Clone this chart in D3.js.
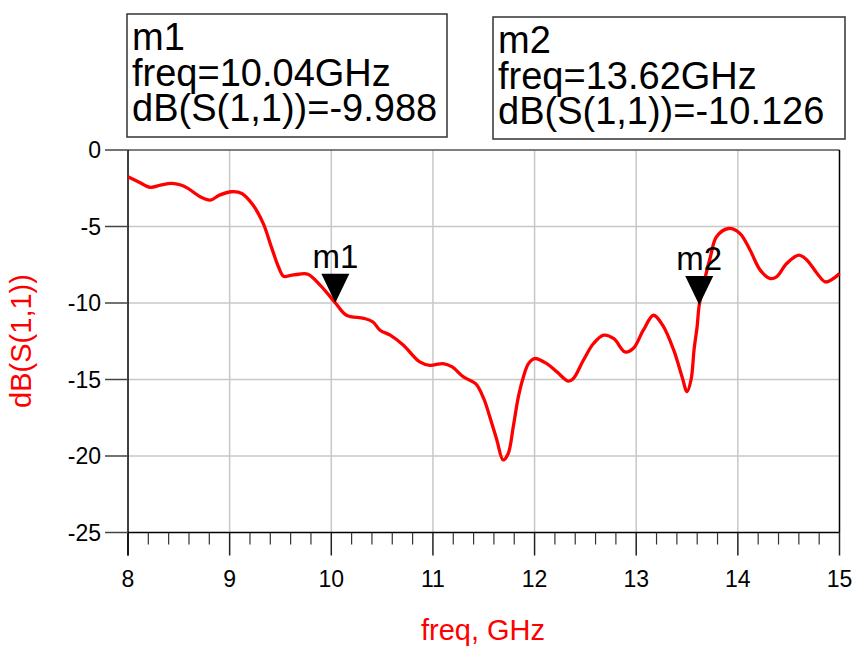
<!DOCTYPE html>
<html>
<head>
<meta charset="utf-8">
<script src="https://cdn.jsdelivr.net/npm/d3@7"></script>
<style>
  body { margin: 0; background: #fff; }
  svg { display: block; font-family: "Liberation Sans", Arial, sans-serif; }
</style>
</head>
<body>
<svg id="chart" width="859" height="651"></svg>
<script>
// freq in GHz, dB(S(1,1))
let freq = [8.00, 8.10, 8.22, 8.32, 8.43, 8.52, 8.59, 8.71, 8.81, 8.90, 9.02, 9.12, 9.23, 9.33,
  9.41, 9.48, 9.53, 9.60, 9.68, 9.77, 9.89, 10.04, 10.15, 10.32, 10.41, 10.48, 10.58, 10.71,
  10.87, 10.97, 11.10, 11.19, 11.30, 11.42, 11.50, 11.56, 11.63, 11.69, 11.74, 11.79, 11.84,
  11.89, 11.94, 12.00, 12.12, 12.22, 12.33, 12.38, 12.48, 12.58, 12.68, 12.78, 12.89, 12.97,
  13.07, 13.17, 13.26, 13.37, 13.45, 13.50, 13.54, 13.57, 13.60, 13.62, 13.68, 13.73, 13.79,
  13.91, 14.02, 14.12, 14.22, 14.32, 14.38, 14.48, 14.60, 14.68, 14.78, 14.86, 14.94, 15.00];
let s11 = [-1.75, -2.07, -2.44, -2.29, -2.18, -2.29, -2.51, -3.05, -3.27, -2.95, -2.73, -2.84,
  -3.6, -4.8, -6.33, -7.63, -8.25, -8.2, -8.12, -8.12, -8.83, -9.988, -10.8, -11.0, -11.24,
  -11.78, -12.1, -12.76, -13.85, -14.07, -13.96, -14.18, -14.83, -15.27, -16.25, -17.45, -18.98,
  -20.25, -19.85, -18.1, -16.15, -14.83, -13.96, -13.63, -13.96, -14.5, -15.1, -14.95, -13.74,
  -12.65, -12.1, -12.33, -13.2, -12.98, -11.78, -10.8, -11.45, -13.1, -14.8, -15.8, -15.0,
  -13.0, -11.5, -10.126, -8.29, -6.98, -5.67, -5.13, -5.45, -6.54, -7.85, -8.4, -8.29, -7.42,
  -6.87, -7.2, -8.07, -8.62, -8.4, -8.07];

let xTicks = [8, 9, 10, 11, 12, 13, 14, 15];
let yTicks = [0, -5, -10, -15, -20, -25];

let markerNames = ["m1", "m2"];
let markerFreq = [10.04, 13.62];
let markerVal = [-9.988, -10.126];

let xTitle = "freq, GHz";
let yTitle = "dB(S(1,1))";

let svg = d3.select("#chart");
let pLeft = 128, pRight = 839.5, pTop = 150, pBottom = 532.5;

let x = d3.scaleLinear().domain([8, 15]).range([pLeft, pRight]);
let y = d3.scaleLinear().domain([-25, 0]).range([pBottom, pTop]);

// grid
let grid = svg.append("g").attr("stroke", "#c8c8c8").attr("stroke-width", 1.5);
grid.selectAll(".vg").data(xTicks.slice(1, -1)).enter().append("line")
  .attr("x1", d => x(d)).attr("x2", d => x(d)).attr("y1", pTop).attr("y2", pBottom);
grid.selectAll(".hg").data(yTicks.slice(1, -1)).enter().append("line")
  .attr("x1", pLeft).attr("x2", pRight).attr("y1", d => y(d)).attr("y2", d => y(d));

// frame: top gray, right black
svg.append("line").attr("x1", pLeft).attr("x2", pRight).attr("y1", pTop).attr("y2", pTop)
  .attr("stroke", "#555").attr("stroke-width", 1.5);
svg.append("line").attr("x1", pRight).attr("x2", pRight).attr("y1", pTop).attr("y2", pBottom)
  .attr("stroke", "#000").attr("stroke-width", 1.5);

// bottom axis with minor ticks
let minor = d3.range(8, 15.001, 0.2).filter(v => Math.abs(v - Math.round(v)) > 0.01);
let xAxis = svg.append("g").attr("transform", `translate(0,${pBottom})`);
xAxis.append("line").attr("x1", pLeft).attr("x2", pRight).attr("stroke", "#000").attr("stroke-width", 1.5);
xAxis.selectAll(".minor").data(minor).enter().append("line")
  .attr("x1", d => x(d)).attr("x2", d => x(d)).attr("y1", 0).attr("y2", 12)
  .attr("stroke", "#333").attr("stroke-width", 1.2);
xAxis.selectAll(".major").data(xTicks).enter().append("line")
  .attr("x1", d => x(d)).attr("x2", d => x(d)).attr("y1", 0).attr("y2", 23)
  .attr("stroke", "#222").attr("stroke-width", 1.5);
xAxis.selectAll("text").data(xTicks).enter().append("text")
  .attr("x", d => x(d)).attr("y", 54)
  .attr("text-anchor", "middle").attr("font-size", 23).attr("fill", "#000")
  .text(d => d);

// left axis
let yAxis = svg.append("g");
yAxis.append("line").attr("x1", pLeft).attr("x2", pLeft).attr("y1", pTop).attr("y2", pBottom + 23)
  .attr("stroke", "#000").attr("stroke-width", 1.5);
yAxis.selectAll(".tk").data(yTicks).enter().append("line")
  .attr("x1", pLeft - 23).attr("x2", pLeft).attr("y1", d => y(d)).attr("y2", d => y(d))
  .attr("stroke", "#444").attr("stroke-width", 1.5);
yAxis.selectAll("text").data(yTicks).enter().append("text")
  .attr("x", 101).attr("y", d => y(d) + 8)
  .attr("text-anchor", "end").attr("font-size", 23).attr("fill", "#000")
  .text(d => d);

// titles
svg.append("text").attr("x", 483).attr("y", 640).attr("text-anchor", "middle")
  .attr("font-size", 29).attr("fill", "#ff0000").text(xTitle);
svg.append("text").attr("transform", "translate(31,341) rotate(-90)").attr("text-anchor", "middle")
  .attr("font-size", 29).attr("fill", "#ff0000").text(yTitle);

// curve
let pts = freq.map((f, i) => [f, s11[i]]);
let line = d3.line().x(d => x(d[0])).y(d => y(d[1])).curve(d3.curveCatmullRom.alpha(0.5));
svg.append("path").datum(pts).attr("d", line)
  .attr("fill", "none").attr("stroke", "#ff0000").attr("stroke-width", 3.3)
  .attr("stroke-linejoin", "round");

// markers
markerNames.forEach((name, i) => {
  let mx = x(markerFreq[i]), my = y(markerVal[i]);
  svg.append("path")
    .attr("d", `M${mx - 14},${my - 29}L${mx + 14},${my - 29}L${mx},${my}Z`)
    .attr("fill", "#000");
  svg.append("text").attr("x", mx).attr("y", my - 35).attr("text-anchor", "middle")
    .attr("font-size", 33).attr("fill", "#000").text(name);
});

// marker readout boxes
let boxes = [{x: 127, y: 14, w: 320, h: 123}, {x: 493, y: 17, w: 352, h: 122}];
markerNames.forEach((name, i) => {
  let b = boxes[i];
  let g = svg.append("g");
  g.append("rect").attr("x", b.x).attr("y", b.y).attr("width", b.w).attr("height", b.h)
    .attr("fill", "#fff").attr("stroke", "#333").attr("stroke-width", 1.5);
  let lines = [name, "freq=" + markerFreq[i].toFixed(2) + "GHz", "dB(S(1,1))=" + markerVal[i]];
  g.selectAll("text").data(lines).enter().append("text")
    .attr("x", b.x + 5).attr("y", (d, k) => b.y + 36 + k * 35.5)
    .attr("font-size", 38).attr("fill", "#000").text(d => d);
});
</script>
</body>
</html>
